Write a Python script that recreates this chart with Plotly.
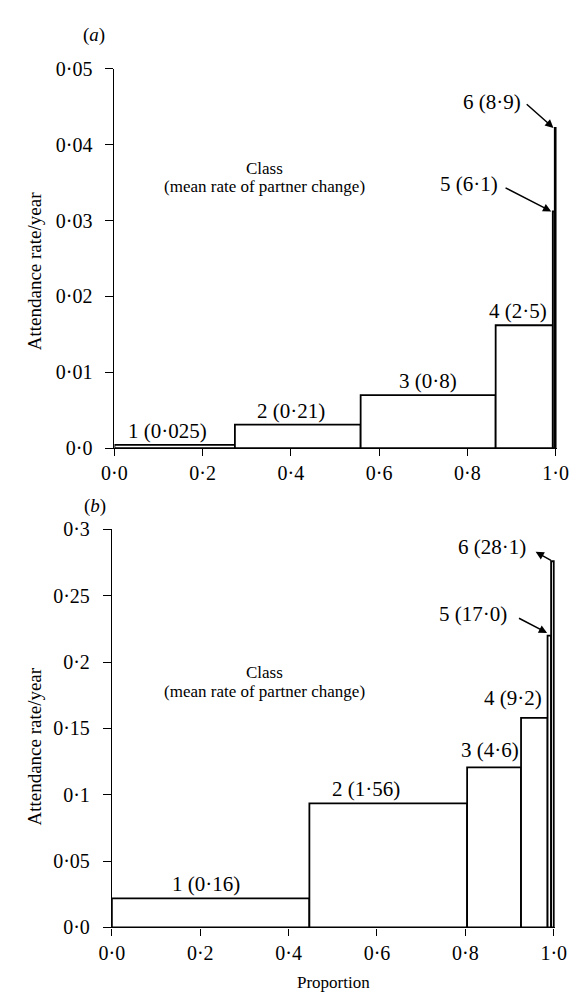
import plotly.graph_objects as go

# ---------------- data ----------------
# Panel (a): class boundaries (cumulative proportion) and attendance rates
a_edges = [0.0, 0.273, 0.558, 0.864, 0.9935, 0.998, 1.0]
a_rates = [0.00045, 0.0031, 0.0070, 0.0162, 0.0312, 0.0422]
a_labels = ["1 (0·025)", "2 (0·21)", "3 (0·8)", "4 (2·5)", "5 (6·1)", "6 (8·9)"]

# Panel (b)
b_edges = [0.0, 0.447, 0.804, 0.926, 0.986, 0.994, 1.0]
b_rates = [0.022, 0.0935, 0.1206, 0.158, 0.220, 0.276]
b_labels = ["1 (0·16)", "2 (1·56)", "3 (4·6)", "4 (9·2)", "5 (17·0)", "6 (28·1)"]

x_tickvals = [0.0, 0.2, 0.4, 0.6, 0.8, 1.0]
x_ticktext = ["0·0", "0·2", "0·4", "0·6", "0·8", "1·0"]
a_tickvals = [0.0, 0.01, 0.02, 0.03, 0.04, 0.05]
a_ticktext = ["0·0", "0·01", "0·02", "0·03", "0·04", "0·05"]
b_tickvals = [0.0, 0.05, 0.1, 0.15, 0.2, 0.25, 0.3]
b_ticktext = ["0·0", "0·05", "0·1", "0·15", "0·2", "0·25", "0·3"]

class_title = ["Class", "(mean rate of partner change)"]
y_title = "Attendance rate/year"
x_title = "Proportion"

# ---------------- figure ----------------
W, H = 582, 1004
FONT = "Liberation Serif, Times New Roman, serif"
NUM = 21     # numeric labels
TXT = 17     # word labels


def centers_widths(edges):
    c = [(edges[i] + edges[i + 1]) / 2 for i in range(len(edges) - 1)]
    w = [edges[i + 1] - edges[i] for i in range(len(edges) - 1)]
    return c, w


fig = go.Figure()
ac, aw = centers_widths(a_edges)
bc, bw = centers_widths(b_edges)

bar_style = dict(marker=dict(color="white", line=dict(color="black", width=1.8)),
                 showlegend=False, hoverinfo="skip")
fig.add_trace(go.Bar(x=ac, y=a_rates, width=aw, xaxis="x", yaxis="y", **bar_style))
fig.add_trace(go.Bar(x=bc, y=b_rates, width=bw, xaxis="x2", yaxis="y2", **bar_style))

common = dict(showline=True, linecolor="black", linewidth=1.1, ticks="outside",
              tickwidth=1.1, tickcolor="black", showgrid=False, zeroline=False,
              tickfont=dict(family=FONT, size=20, color="black"))
xcommon = dict(ticklen=7, ticklabelstandoff=0, **common)
ycommon = dict(ticklen=8, ticklabelstandoff=9, **common)

px = lambda v: v / W
py = lambda v: 1 - v / H

fig.update_layout(
    width=W, height=H,
    margin=dict(l=0, r=0, t=0, b=0),
    paper_bgcolor="white", plot_bgcolor="white",
    barmode="overlay",
    font=dict(family=FONT, size=TXT, color="black"),
    xaxis=dict(domain=[px(106), px(568.4)], range=[0, 1.003], anchor="y",
               tickvals=x_tickvals, ticktext=x_ticktext, **xcommon),
    yaxis=dict(domain=[py(447), py(59)], range=[0, 0.05], anchor="x",
               tickvals=a_tickvals, ticktext=a_ticktext, **ycommon),
    xaxis2=dict(domain=[px(103.3), px(566.4)], range=[0, 1.003], anchor="y2",
                tickvals=x_tickvals, ticktext=x_ticktext, **xcommon),
    yaxis2=dict(domain=[py(937), py(530)], range=[0, 0.3], anchor="x2",
                tickvals=b_tickvals, ticktext=b_ticktext, **ycommon),
)

ann = []
# class labels sitting on bars 1-4
a_xshift = [-7, -7, 0, -6]
a_yshift = [0, 0, 0, 0]
for i in range(4):
    ann.append(dict(x=ac[i], y=a_rates[i], xref="x", yref="y", text=a_labels[i],
                    showarrow=False, xanchor="center", yanchor="bottom",
                    xshift=a_xshift[i], yshift=a_yshift[i], font=dict(size=NUM)))
b_xshift = [-5, -22, -4, -21]
b_yshift = [0, 0, 3, 6]
for i in range(4):
    ann.append(dict(x=bc[i], y=b_rates[i], xref="x2", yref="y2", text=b_labels[i],
                    showarrow=False, xanchor="center", yanchor="bottom",
                    xshift=b_xshift[i], yshift=b_yshift[i], font=dict(size=NUM)))

arrow_style = dict(text="", showarrow=True, arrowhead=2, arrowsize=1.1, arrowwidth=1.5,
                   arrowcolor="black", standoff=0, startstandoff=0)

# panel (a): classes 5 and 6, labels with arrows
ann.append(dict(x=0.804, y=0.0348, xref="x", yref="y", text=a_labels[4], showarrow=False,
                xanchor="center", yanchor="middle", font=dict(size=NUM)))
ann.append(dict(x=0.855, y=0.0456, xref="x", yref="y", text=a_labels[5], showarrow=False,
                xanchor="center", yanchor="middle", font=dict(size=NUM)))
ann.append(dict(x=0.990, y=a_rates[4], xref="x", yref="y", ax=0.883, ay=0.0344,
                axref="x", ayref="y", **arrow_style))
ann.append(dict(x=0.995, y=a_rates[5], xref="x", yref="y", ax=0.931, ay=0.0455,
                axref="x", ayref="y", **arrow_style))

# panel (b): classes 5 and 6
ann.append(dict(x=0.818, y=0.236, xref="x2", yref="y2", text=b_labels[4], showarrow=False,
                xanchor="center", yanchor="middle", font=dict(size=NUM)))
ann.append(dict(x=0.861, y=0.2867, xref="x2", yref="y2", text=b_labels[5], showarrow=False,
                xanchor="center", yanchor="middle", font=dict(size=NUM)))
ann.append(dict(x=0.985, y=b_rates[4] + 0.002, xref="x2", yref="y2", ax=0.918, ay=0.2336,
                axref="x2", ayref="y2", **arrow_style))
# class 6: arrow head drawn next to the label
ann.append(dict(x=0.959, y=0.2831, xref="x2", yref="y2", ax=0.997, ay=b_rates[5],
                axref="x2", ayref="y2", **arrow_style))

# "Class (mean rate of partner change)"
ann.append(dict(x=0.341, y=0.0368, xref="x", yref="y", text=class_title[0],
                showarrow=False, xanchor="center", yanchor="middle", font=dict(size=TXT)))
ann.append(dict(x=0.341, y=0.0345, xref="x", yref="y", text=class_title[1],
                showarrow=False, xanchor="center", yanchor="middle", font=dict(size=TXT)))
ann.append(dict(x=0.346, y=0.192, xref="x2", yref="y2", text=class_title[0],
                showarrow=False, xanchor="center", yanchor="middle", font=dict(size=TXT)))
ann.append(dict(x=0.346, y=0.1775, xref="x2", yref="y2", text=class_title[1],
                showarrow=False, xanchor="center", yanchor="middle", font=dict(size=TXT)))

# panel letters
ann.append(dict(x=px(85), y=py(25), xref="paper", yref="paper", text="(<i>a</i>)",
                showarrow=False, xanchor="center", yanchor="middle", font=dict(size=19)))
ann.append(dict(x=px(86), y=py(506), xref="paper", yref="paper", text="(<i>b</i>)",
                showarrow=False, xanchor="center", yanchor="middle", font=dict(size=19)))

# axis titles
ann.append(dict(x=px(22), y=py(266), xref="paper", yref="paper", text=y_title,
                textangle=-90, showarrow=False, xanchor="center", yanchor="middle",
                font=dict(size=19)))
ann.append(dict(x=px(22), y=py(752), xref="paper", yref="paper", text=y_title,
                textangle=-90, showarrow=False, xanchor="center", yanchor="middle",
                font=dict(size=19)))
ann.append(dict(x=px(335), y=py(993), xref="paper", yref="paper", text=x_title,
                showarrow=False, xanchor="center", yanchor="middle", font=dict(size=TXT)))

fig.update_layout(annotations=ann)
fig.write_html("out.html", config={"displayModeBar": False},
               post_script="document.body.style.margin='0';document.body.style.overflow='hidden';")
